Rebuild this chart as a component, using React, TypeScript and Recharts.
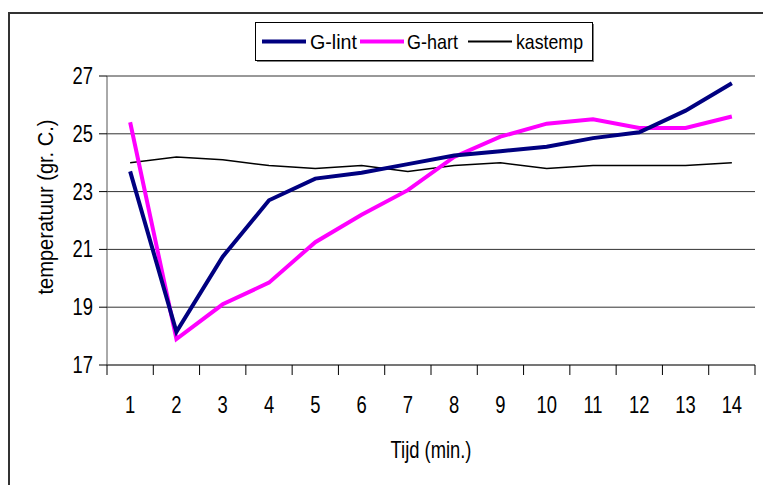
import { LineChart, Line, XAxis, YAxis, CartesianGrid, Legend } from 'recharts'

const minutes = ['1', '2', '3', '4', '5', '6', '7', '8', '9', '10', '11', '12', '13', '14']
const glint = [23.7, 18.15, 20.75, 22.7, 23.45, 23.65, 23.95, 24.25, 24.4, 24.55, 24.85, 25.05, 25.8, 26.75]
const ghart = [25.4, 17.9, 19.1, 19.85, 21.25, 22.2, 23.05, 24.2, 24.9, 25.35, 25.5, 25.2, 25.2, 25.6]
const kastemp = [24.0, 24.2, 24.1, 23.9, 23.8, 23.9, 23.7, 23.9, 24.0, 23.8, 23.9, 23.9, 23.9, 24.0]
const yTicks = [17, 19, 21, 23, 25, 27]

const data = minutes.map((t, i) => ({ t, glint: glint[i], ghart: ghart[i], kastemp: kastemp[i] }))

// no narrow font installed, so squeeze Liberation Sans instead
const FONT = "'Liberation Sans', Arial, sans-serif"
const SQUEEZE = 0.8
const W = 763
const H = 485
const PLOT_LEFT = 107
const PLOT_RIGHT = 755
const BAND = (PLOT_RIGHT - PLOT_LEFT) / minutes.length

const legendItems = [
  { label: 'G-lint', color: '#000080', width: 4, lineX: 7, textX: 55, textLen: 47 },
  { label: 'G-hart', color: '#ff00ff', width: 4, lineX: 105, textX: 152, textLen: 51 },
  { label: 'kastemp', color: '#000000', width: 2, lineX: 213, textX: 261, textLen: 67 },
]

function LegendBox() {
  return (
    <svg width={340} height={41} style={{ display: 'block' }}>
      <rect x={2} y={2} width={337} height={38} fill="#808080" />
      <rect x={0.5} y={0.5} width={337} height={38} fill="#fff" stroke="#000" />
      {legendItems.map(it => (
        <g key={it.label}>
          <line x1={it.lineX} x2={it.lineX + 44} y1={19.5} y2={19.5} stroke={it.color} strokeWidth={it.width} />
          <text x={it.textX} y={27} fontFamily={FONT} fontSize={21} fill="#000" textLength={it.textLen} lengthAdjust="spacingAndGlyphs">
            {it.label}
          </text>
        </g>
      ))}
    </svg>
  )
}

function XTick(props: any) {
  const { x, y, payload, index } = props
  const last = index === minutes.length - 1
  return (
    <g>
      <line x1={x - BAND / 2} x2={x - BAND / 2} y1={y} y2={y + 10} stroke="#000" />
      {last && <line x1={x + BAND / 2} x2={x + BAND / 2} y1={y} y2={y + 10} stroke="#000" />}
      <text transform={`translate(${x},${y + 48}) scale(${SQUEEZE},1)`} textAnchor="middle" fontFamily={FONT} fontSize={23} fill="#000">
        {payload.value}
      </text>
    </g>
  )
}

function YTick(props: any) {
  const { x, y, payload } = props
  return (
    <text transform={`translate(${x},${y + 8}) scale(${SQUEEZE},1)`} textAnchor="end" fontFamily={FONT} fontSize={23} fill="#000">
      {payload.value}
    </text>
  )
}

function YLabel() {
  const cx = 53
  const cy = 207
  return (
    <text x={cx} y={cy} transform={`rotate(-90 ${cx} ${cy})`} textAnchor="middle" fontFamily={FONT} fontSize={22} fill="#000" textLength={175} lengthAdjust="spacingAndGlyphs">
      temperatuur (gr. C.)
    </text>
  )
}

function XLabel(props: any) {
  const { viewBox } = props
  return (
    <text x={viewBox.x + viewBox.width / 2} y={viewBox.y + 93} textAnchor="middle" fontFamily={FONT} fontSize={24} fill="#000" textLength={81} lengthAdjust="spacingAndGlyphs">
      Tijd (min.)
    </text>
  )
}

export default function App() {
  return (
    <div style={{ position: 'fixed', left: 0, top: 0, width: W, height: H, background: '#fff' }}>
      <div
        style={{
          position: 'absolute',
          left: 8,
          top: 12,
          width: W - 8,
          height: H - 12,
          borderTop: '2px solid #333',
          borderLeft: '2px solid #333',
          boxSizing: 'border-box',
        }}
      />
      <LineChart width={W} height={H} data={data} margin={{ top: 76, right: W - PLOT_RIGHT, left: 0, bottom: 20 }}>
        <CartesianGrid vertical={false} stroke="#333" strokeOpacity={1} />
        <XAxis
          dataKey="t"
          height={100}
          padding={{ left: BAND / 2, right: BAND / 2 }}
          tick={<XTick />}
          tickLine={false}
          tickSize={0}
          tickMargin={0}
          interval={0}
          axisLine={{ stroke: '#555' }}
          label={<XLabel />}
        />
        <YAxis
          width={PLOT_LEFT}
          domain={[17, 27]}
          ticks={yTicks}
          tickSize={8}
          tickMargin={6}
          tick={<YTick />}
          tickLine={{ stroke: '#000' }}
          axisLine={{ stroke: '#555' }}
          label={<YLabel />}
        />
        <YAxis yAxisId="edge" orientation="right" width={0} tick={false} tickLine={false} axisLine={{ stroke: '#808080' }} />
        <Legend
          layout="horizontal"
          verticalAlign="middle"
          align="center"
          wrapperStyle={{ top: 22, left: 255, width: 340, height: 41 }}
          content={() => <LegendBox />}
        />
        <Line dataKey="kastemp" stroke="#000" strokeWidth={1.5} dot={false} isAnimationActive={false} />
        <Line dataKey="ghart" stroke="#ff00ff" strokeWidth={4} dot={false} isAnimationActive={false} />
        <Line dataKey="glint" stroke="#000080" strokeWidth={4} dot={false} isAnimationActive={false} />
      </LineChart>
    </div>
  )
}
